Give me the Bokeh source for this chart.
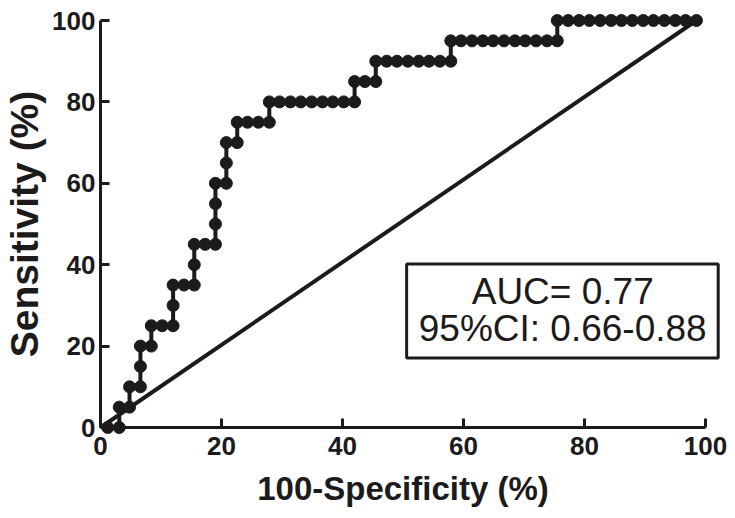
from bokeh.plotting import figure
from bokeh.models import FixedTicker, Range1d
from bokeh.core.properties import value
from bokeh.embed import file_html
from bokeh.resources import INLINE

# ROC curve points: 100-Specificity (%) and Sensitivity (%)
fpr = [1.2, 3.1, 3.1, 4.8, 4.8, 6.6, 6.6, 6.6, 8.4, 8.4, 10.2, 12.0, 12.0, 12.0,
       13.8, 15.5, 15.5, 15.5, 17.3, 19.0, 19.0, 19.0, 19.0, 20.8, 20.8, 20.8,
       22.6, 22.6, 24.3, 26.1, 27.9, 27.9, 29.6, 31.4, 33.1, 34.9, 36.7, 38.4,
       40.2, 42.0, 42.0, 43.7, 45.5, 45.5, 47.3, 49.0, 50.8, 52.6, 54.3, 56.1,
       57.9, 57.9, 59.6, 61.4, 63.2, 64.9, 66.7, 68.5, 70.2, 72.0, 73.8, 75.5,
       75.5, 77.3, 79.1, 80.8, 82.6, 84.4, 86.1, 87.9, 89.7, 91.4, 93.2, 95.0,
       96.7, 98.5]
tpr = [0, 0, 5, 5, 10, 10, 15, 20, 20, 25, 25, 25, 30, 35,
       35, 35, 40, 45, 45, 45, 50, 55, 60, 60, 65, 70,
       70, 75, 75, 75, 75, 80, 80, 80, 80, 80, 80, 80,
       80, 80, 85, 85, 85, 90, 90, 90, 90, 90, 90, 90,
       90, 95, 95, 95, 95, 95, 95, 95, 95, 95, 95, 95,
       100, 100, 100, 100, 100, 100, 100, 100, 100, 100, 100, 100,
       100, 100]

# line of identity
diag_x = [0, 98.5]
diag_y = [0, 100]

x_ticks = [0, 20, 40, 60, 80, 100]
y_ticks = [0, 20, 40, 60, 80, 100]
annotation_lines = ["AUC= 0.77", "95%CI: 0.66-0.88"]

FONT = "Liberation Sans"
INK = "#1c1a1b"

p = figure(width=735, height=518,
           x_range=Range1d(0, 100), y_range=Range1d(0, 100),
           output_backend="svg", toolbar_location=None,
           min_border_left=98, min_border_right=30,
           min_border_top=20, min_border_bottom=91)
p.outline_line_color = None
p.xgrid.visible = False
p.ygrid.visible = False
p.background_fill_color = "white"
p.border_fill_color = "white"

for ax, ticks in ((p.xaxis[0], x_ticks), (p.yaxis[0], y_ticks)):
    ax.ticker = FixedTicker(ticks=ticks)
    ax.axis_line_width = 3
    ax.axis_line_color = INK
    ax.major_tick_line_width = 3
    ax.major_tick_line_color = INK
    ax.major_tick_in = 9
    ax.major_tick_out = 0
    ax.minor_tick_line_color = None
    ax.major_label_text_font = FONT
    ax.major_label_text_font_style = "bold"
    ax.major_label_text_font_size = "26px"
    ax.major_label_text_color = INK
    ax.axis_label_text_font = FONT
    ax.axis_label_text_font_style = "bold"
    ax.axis_label_text_color = INK

p.xaxis[0].axis_label = "100-Specificity (%)"
p.yaxis[0].axis_label = "Sensitivity (%)"
p.xaxis[0].axis_label_text_font_size = "33px"
p.yaxis[0].axis_label_text_font_size = "39px"
p.xaxis[0].major_label_standoff = 9
p.yaxis[0].major_label_standoff = 5
p.xaxis[0].axis_label_standoff = 12
p.yaxis[0].axis_label_standoff = 3

p.line(diag_x, diag_y, line_width=4, line_color=INK, level="overlay")
p.line(fpr, tpr, line_width=4, line_color=INK, level="overlay")
p.scatter(fpr, tpr, size=12, fill_color=INK, line_color=INK, level="overlay")

# annotation box with AUC text (extends past the x=100 end of the axis)
p.quad(left=[50.6], right=[102.1], top=[40.2], bottom=[17.1],
       fill_color="white", line_color=INK, line_width=3, level="overlay")
p.text(x=[76.4, 76.4], y=[33.3, 24.4], text=annotation_lines,
       text_align="center", text_baseline="middle",
       text_font=value(FONT), text_font_size="37px", text_color=INK,
       level="overlay")

open("out.html", "w").write(file_html(p, INLINE))
